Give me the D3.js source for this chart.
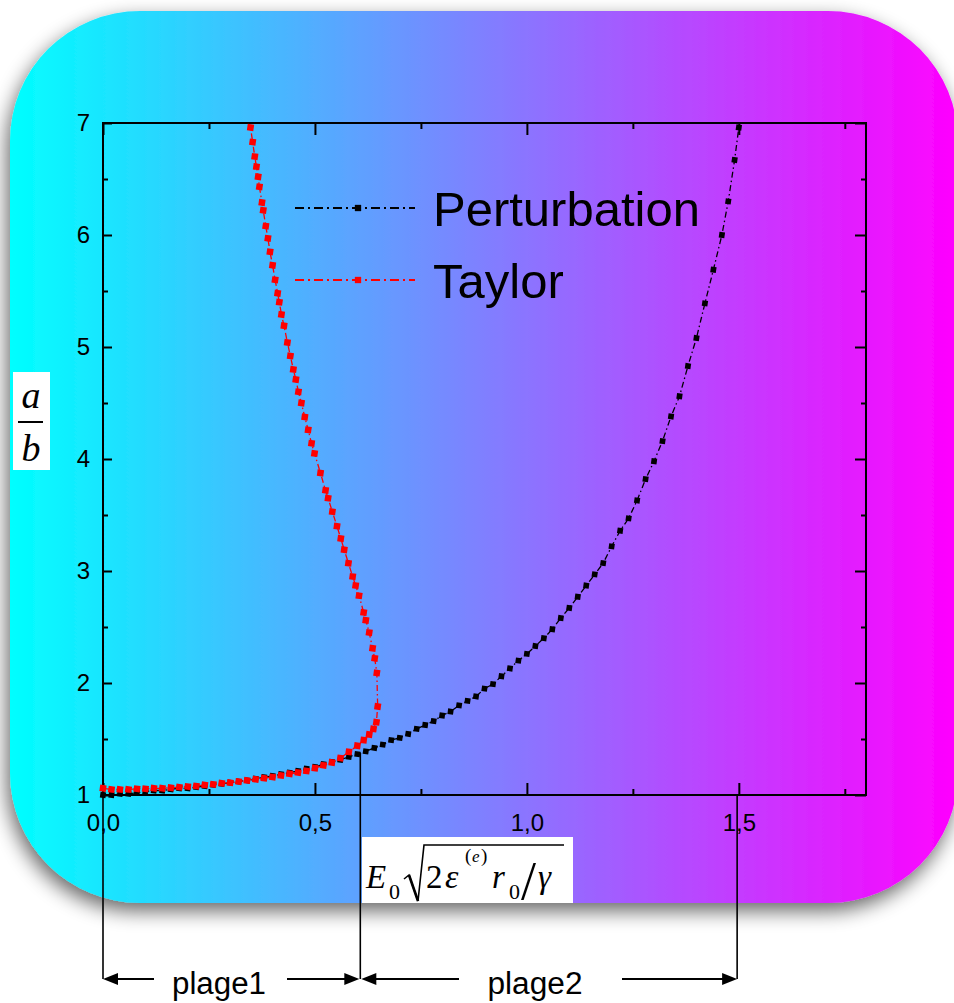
<!DOCTYPE html>
<html>
<head>
<meta charset="utf-8">
<script src="https://cdn.jsdelivr.net/npm/d3@7/dist/d3.min.js"></script>
<style>
  html, body { margin: 0; padding: 0; background: #ffffff; overflow: hidden; }
  svg { display: block; }
</style>
</head>
<body>
<script>
// ---- data -------------------------------------------------------------
// Perturbation solution: aspect ratio a/b against the reduced field
const pertX = [0.00,0.02,0.04,0.06,0.08,0.10,0.12,0.14,0.16,0.18,0.20,0.22,0.24,0.26,0.28,0.30,
  0.32,0.34,0.36,0.38,0.40,0.42,0.44,0.46,0.48,0.50,0.52,0.54,0.56,0.58,0.60,0.62,0.64,0.66,
  0.68,0.70,0.72,0.74,0.76,0.78,0.80,0.82,0.84,0.86,0.88,0.90,0.92,0.94,0.96,0.98,1.00,1.02,
  1.04,1.06,1.08,1.10,1.12,1.14,1.16,1.18,1.20,1.22,1.24,1.26,1.28,1.30,1.32,1.34,1.36,1.38,
  1.40,1.42,1.44,1.46,1.475,1.49,1.50];
const pertY = [1.00,1.00,1.01,1.01,1.02,1.03,1.04,1.04,1.05,1.06,1.06,1.07,1.08,1.09,1.10,1.11,
  1.12,1.13,1.145,1.16,1.17,1.185,1.20,1.215,1.235,1.25,1.275,1.295,1.315,1.34,1.365,1.39,1.42,1.45,
  1.49,1.51,1.545,1.59,1.625,1.66,1.71,1.745,1.80,1.84,1.88,1.95,1.99,2.06,2.13,2.20,2.26,2.33,
  2.40,2.48,2.58,2.67,2.77,2.87,2.97,3.07,3.22,3.36,3.47,3.63,3.82,3.98,4.16,4.38,4.56,4.83,
  5.08,5.39,5.69,6.00,6.30,6.67,6.96];

// Taylor solution: lower branch up to the turning point, then the upper branch
const taylorX = [0.00,0.02,0.04,0.06,0.08,0.10,0.12,0.14,0.16,0.18,0.20,0.22,0.24,0.26,0.28,0.30,
  0.32,0.34,0.36,0.38,0.40,0.42,0.44,0.46,0.48,0.50,0.52,0.54,0.56,0.58,0.60,0.615,0.628,0.638,
  0.645,0.648,0.646,0.641,0.636,0.628,0.620,0.615,0.604,0.596,0.589,0.579,0.569,0.561,
  0.552,0.541,0.531,0.525,0.513,0.499,0.492,0.484,0.476,0.468,0.461,0.455,0.449,0.442,0.435,
  0.427,0.421,0.416,0.412,0.406,0.400,0.394,0.389,0.384,0.378,0.375,0.369,0.366,0.362,0.358,
  0.353,0.348];
const taylorY = [1.06,1.05,1.05,1.05,1.055,1.055,1.06,1.06,1.065,1.07,1.075,1.08,1.09,1.095,1.105,1.11,
  1.12,1.13,1.14,1.15,1.16,1.175,1.19,1.20,1.215,1.24,1.265,1.29,1.33,1.385,1.44,1.49,1.54,1.59,
  1.65,1.79,2.09,2.22,2.31,2.45,2.56,2.63,2.78,2.87,2.95,3.07,3.19,3.29,
  3.40,3.53,3.65,3.72,3.875,4.05,4.14,4.26,4.375,4.50,4.60,4.71,4.80,4.92,5.04,
  5.19,5.29,5.40,5.48,5.60,5.73,5.85,5.97,6.08,6.22,6.29,6.43,6.52,6.61,6.70,
  6.83,6.96];

const seriesNames = ["Perturbation", "Taylor"];
const xMajorTicks = [0, 0.5, 1.0, 1.5];
const xMinorTicks = [0.25, 0.75, 1.25, 1.75];
const yMajorTicks = [1, 2, 3, 4, 5, 6, 7];
const yMinorTicks = [1.5, 2.5, 3.5, 4.5, 5.5, 6.5];
// limits of the two field ranges marked under the chart
const rangeBounds = [0, 0.607, 1.496];
const rangeNames = ["plage1", "plage2"];

// ---- drawing ----------------------------------------------------------
const W = 954, H = 1003;
const svg = d3.select("body").append("svg").attr("width", W).attr("height", H);
const defs = svg.append("defs");

const grad = defs.append("linearGradient").attr("id", "bg")
  .attr("gradientUnits", "userSpaceOnUse")
  .attr("x1", 10).attr("y1", 0).attr("x2", 958).attr("y2", 0);
grad.append("stop").attr("offset", "0%").attr("stop-color", "#00ffff");
grad.append("stop").attr("offset", "100%").attr("stop-color", "#ff00ff");

const f = defs.append("filter").attr("id", "shadow")
  .attr("x", "-10%").attr("y", "-10%").attr("width", "125%").attr("height", "125%");
f.append("feGaussianBlur").attr("in", "SourceAlpha").attr("stdDeviation", 10);
f.append("feOffset").attr("dx", -3).attr("dy", 8).attr("result", "ob");
const ct = f.append("feComponentTransfer").attr("in", "ob").attr("result", "sh");
ct.append("feFuncA").attr("type", "linear").attr("slope", 0.6);
const fm = f.append("feMerge");
fm.append("feMergeNode").attr("in", "sh");
fm.append("feMergeNode").attr("in", "SourceGraphic");

// rounded gradient panel
svg.append("rect")
  .attr("x", 10).attr("y", 11).attr("width", 948).attr("height", 892)
  .attr("rx", 130).attr("ry", 130)
  .attr("fill", "url(#bg)")
  .attr("filter", "url(#shadow)");

const x = d3.scaleLinear().domain([0, 1.8]).range([103, 866]);
const y = d3.scaleLinear().domain([1, 7]).range([795, 123]);

const font = "'Liberation Sans', Arial, sans-serif";
const serif = "'Liberation Serif', 'Times New Roman', serif";
const fmt = d => d3.format(".1f")(d).replace(".", ",");

// axes: ticks point inward, labels on bottom and left only
function styleAxis(g) {
  g.select(".domain").remove();
  g.selectAll("line").attr("stroke", "#000").attr("stroke-width", 2);
  g.selectAll("text").attr("font-family", font).attr("font-size", 24).attr("fill", "#000");
}
svg.append("g").attr("transform", `translate(0,${y(1)})`)
  .call(d3.axisBottom(x).tickValues(xMajorTicks).tickSize(-12).tickPadding(19).tickFormat(fmt))
  .call(styleAxis);
svg.append("g").attr("transform", `translate(0,${y(1)})`)
  .call(d3.axisBottom(x).tickValues(xMinorTicks).tickSize(-6).tickFormat(""))
  .call(styleAxis);
svg.append("g").attr("transform", `translate(0,${y(7)})`)
  .call(d3.axisTop(x).tickValues(xMajorTicks).tickSize(-12).tickFormat(""))
  .call(styleAxis);
svg.append("g").attr("transform", `translate(0,${y(7)})`)
  .call(d3.axisTop(x).tickValues(xMinorTicks).tickSize(-6).tickFormat(""))
  .call(styleAxis);
svg.append("g").attr("transform", `translate(${x(0)},0)`)
  .call(d3.axisLeft(y).tickValues(yMajorTicks).tickSize(-9).tickPadding(13).tickFormat(d3.format("d")))
  .call(styleAxis);
svg.append("g").attr("transform", `translate(${x(0)},0)`)
  .call(d3.axisLeft(y).tickValues(yMinorTicks).tickSize(-5).tickFormat(""))
  .call(styleAxis);
svg.append("g").attr("transform", `translate(${x(1.8)},0)`)
  .call(d3.axisRight(y).tickValues(yMajorTicks).tickSize(-11).tickFormat(""))
  .call(styleAxis);
svg.append("g").attr("transform", `translate(${x(1.8)},0)`)
  .call(d3.axisRight(y).tickValues(yMinorTicks).tickSize(-5).tickFormat(""))
  .call(styleAxis);

// frame
svg.append("rect")
  .attr("x", x(0)).attr("y", y(7))
  .attr("width", x(1.8) - x(0)).attr("height", y(1) - y(7))
  .attr("fill", "none").attr("stroke", "#000").attr("stroke-width", 2);

// curves
const pert = pertX.map((v, i) => [v, pertY[i]]);
const taylor = taylorX.map((v, i) => [v, taylorY[i]]);
const line = d3.line().x(d => x(d[0])).y(d => y(d[1]));
const series = [
  { name: seriesNames[0], data: pert, color: "#000000", size: 32 },
  { name: seriesNames[1], data: taylor, color: "#ff0000", size: 42 }
];
const sym = d3.symbol().type(d3.symbolSquare);
series.forEach(s => {
  svg.append("path").datum(s.data).attr("d", line)
    .attr("fill", "none").attr("stroke", s.color).attr("stroke-width", 1.3)
    .attr("stroke-dasharray", "6,3,1.5,3");
  svg.append("g").selectAll("path").data(s.data).join("path")
    .attr("transform", d => `translate(${x(d[0])},${y(d[1])}) rotate(8)`)
    .attr("d", sym.size(s.size)())
    .attr("fill", s.color);
});

// legend
series.forEach((s, i) => {
  const ly = 208 + i * 72;
  svg.append("line").attr("x1", 295).attr("x2", 415).attr("y1", ly).attr("y2", ly)
    .attr("stroke", s.color).attr("stroke-width", 2).attr("stroke-dasharray", "9,4,2,4");
  svg.append("path").attr("transform", `translate(358,${ly})`)
    .attr("d", d3.symbol().type(d3.symbolSquare).size(40)()).attr("fill", s.color);
  svg.append("text").attr("x", 433).attr("y", ly + 18)
    .attr("font-family", font).attr("font-size", 49).attr("fill", "#000")
    .text(s.name);
});

// y-axis title: a / b
const yl = svg.append("g");
yl.append("rect").attr("x", 13).attr("y", 372).attr("width", 37).attr("height", 98).attr("fill", "#fff");
yl.append("text").attr("x", 31).attr("y", 408).attr("text-anchor", "middle")
  .attr("font-family", serif).attr("font-style", "italic").attr("font-size", 38).text("a");
yl.append("line").attr("x1", 18).attr("x2", 43).attr("y1", 422).attr("y2", 422)
  .attr("stroke", "#000").attr("stroke-width", 2);
yl.append("text").attr("x", 31).attr("y", 461).attr("text-anchor", "middle")
  .attr("font-family", serif).attr("font-style", "italic").attr("font-size", 38).text("b");

// x-axis title: E0 sqrt(2 eps^(e) r0 / gamma)
const xl = svg.append("g").attr("font-family", serif).attr("fill", "#000");
xl.append("rect").attr("x", 362).attr("y", 837).attr("width", 211).attr("height", 66).attr("fill", "#fff");
function tx(px, py, s, size, italic) {
  xl.append("text").attr("x", px).attr("y", py).attr("font-size", size)
    .attr("font-style", italic ? "italic" : "normal").text(s);
}
tx(366, 888, "E", 33, true);
tx(389, 899, "0", 22, false);
xl.append("path").attr("d", "M404,879 L409,875 L418,901 L424,845 L564,845")
  .attr("fill", "none").attr("stroke", "#000").attr("stroke-width", 1.6);
xl.append("path").attr("d", "M409,875 L418,901").attr("stroke", "#000").attr("stroke-width", 2.6);
tx(426, 888, "2", 33, false);
tx(445, 888, "\u03b5", 34, true);
tx(465, 862, "(", 19, false);
tx(472, 862, "e", 17, true);
tx(481, 862, ")", 19, false);
tx(492, 888, "r", 33, true);
tx(509, 899, "0", 22, false);
tx(521, 899, "/", 54, false);
tx(538, 888, "\u03b3", 33, true);

// field ranges under the chart
const ax = "#000";
const arrowY = 979;
const bx = rangeBounds.map(v => x(v));
const pertAt = v => {
  const i = d3.bisectLeft(pertX, v);
  const a = pert[Math.max(0, i - 1)], b = pert[Math.min(pert.length - 1, i)];
  const t = b[0] === a[0] ? 0 : (v - a[0]) / (b[0] - a[0]);
  return a[1] + t * (b[1] - a[1]);
};
svg.append("line").attr("x1", bx[0]).attr("x2", bx[0]).attr("y1", y(1)).attr("y2", arrowY)
  .attr("stroke", ax).attr("stroke-width", 1.6);
svg.append("line").attr("x1", bx[1]).attr("x2", bx[1]).attr("y1", y(pertAt(rangeBounds[1]))).attr("y2", arrowY)
  .attr("stroke", ax).attr("stroke-width", 1.6);
svg.append("line").attr("x1", bx[2]).attr("x2", bx[2]).attr("y1", y(1)).attr("y2", arrowY)
  .attr("stroke", ax).attr("stroke-width", 1.6);

function arrowHead(tipX, dir) {
  svg.append("path")
    .attr("d", `M${tipX},${arrowY} L${tipX + dir * 15},${arrowY - 6} L${tipX + dir * 15},${arrowY + 6} Z`)
    .attr("fill", ax);
}
function hline(a, b) {
  svg.append("line").attr("x1", a).attr("x2", b).attr("y1", arrowY).attr("y2", arrowY)
    .attr("stroke", ax).attr("stroke-width", 1.8);
}
// plage1
arrowHead(bx[0], 1); hline(bx[0] + 10, 154);
hline(287, bx[1] - 10); arrowHead(bx[1] - 1, -1);
// plage2
arrowHead(bx[1] + 1, 1); hline(bx[1] + 10, 459);
hline(622, bx[2] - 10); arrowHead(bx[2], -1);

svg.append("text").attr("x", 219).attr("y", 994).attr("text-anchor", "middle")
  .attr("font-family", font).attr("font-size", 31).attr("textLength", 94).attr("lengthAdjust", "spacingAndGlyphs")
  .text(rangeNames[0]);
svg.append("text").attr("x", 535).attr("y", 994).attr("text-anchor", "middle")
  .attr("font-family", font).attr("font-size", 31).attr("textLength", 95).attr("lengthAdjust", "spacingAndGlyphs")
  .text(rangeNames[1]);
</script>
</body>
</html>
